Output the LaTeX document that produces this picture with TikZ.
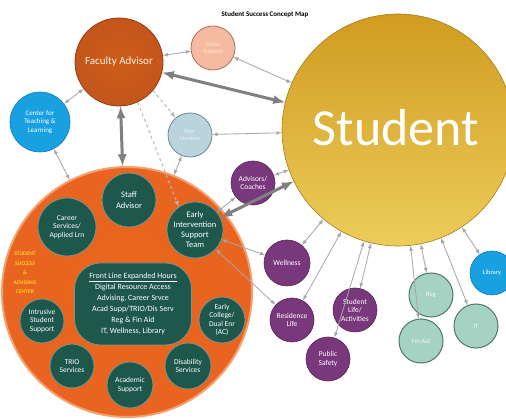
\documentclass[tikz,border=0pt]{standalone}
\usepackage{fontspec}
\setmainfont{Carlito}

\definecolor{facorange}{RGB}{196,86,28}
\definecolor{facdark}{RGB}{150,60,20}
\definecolor{ssacorange}{RGB}{232,100,32}
\definecolor{ssacedge}{RGB}{244,160,110}
\definecolor{deepteal}{RGB}{30,88,76}
\definecolor{tealedge}{RGB}{120,150,140}
\definecolor{plum}{RGB}{122,56,124}
\definecolor{seafoam}{RGB}{166,210,196}
\definecolor{seaedge}{RGB}{80,120,106}
\definecolor{skyblue}{RGB}{24,160,224}
\definecolor{peach}{RGB}{246,186,160}
\definecolor{peachedge}{RGB}{170,110,90}
\definecolor{mist}{RGB}{186,212,222}
\definecolor{mistedge}{RGB}{110,135,145}
\definecolor{goldtop}{RGB}{208,156,32}
\definecolor{goldbot}{RGB}{236,204,90}
\definecolor{linkgray}{RGB}{165,165,170}
\definecolor{boldgray}{RGB}{128,128,132}
\definecolor{labelyellow}{RGB}{250,210,40}

\begin{document}
\begin{tikzpicture}[>=latex, x=1pt, y=-1pt]
        % Styles
        \tikzstyle{bubble}=[circle, inner sep=0pt, align=center, text=white]
        \tikzstyle{inner}=[bubble, fill=deepteal, draw=tealedge, line width=0.8pt, font=\fontsize{7.5}{8.5}\selectfont]
        \tikzstyle{purple}=[bubble, fill=plum, draw=plum!70!black, line width=0.6pt, minimum size=44pt, font=\fontsize{7.5}{8.5}\selectfont]
        \tikzstyle{service}=[bubble, fill=seafoam, draw=seaedge, line width=1pt, minimum size=44pt, text=white!85!seafoam, font=\fontsize{6.5}{7.5}\selectfont]
        \tikzstyle{thinlink}=[<->, linkgray, line width=0.8pt]
        \tikzstyle{dashlink}=[->, linkgray!80, line width=1pt, dashed]
        \tikzstyle{boldlink}=[<->, boldgray, line width=3pt]

        \useasboundingbox (0,0) rectangle (506,419);
        \fill[white] (0,0) rectangle (506,419);

        % Title
        \node[font=\bfseries\fontsize{7}{8}\selectfont] (title) at (265,15) {Student Success Concept Map};

        % Nodes
        \node[bubble, minimum size=232pt, top color=goldtop, bottom color=goldbot, draw=goldtop!80!black, line width=0.6pt] (stu) at (398,130) {};
        \node[text=white, font=\fontsize{52}{52}\selectfont] (stutext) at (396,128) {Student};

        \node[bubble, minimum size=88pt, inner color=facorange!85!orange, outer color=facorange, draw=facdark, line width=0.8pt, font=\fontsize{11}{12}\selectfont, text=white!90!orange] (fac) at (119,62) {Faculty Advisor};
        \node[bubble, minimum size=44pt, fill=peach, draw=peachedge, line width=0.8pt, text=white!70!peach, font=\fontsize{6}{7}\selectfont] (other) at (213,48) {Other\\Support};
        \node[bubble, minimum size=44pt, fill=mist, draw=mistedge, line width=0.8pt, text=white!70!mist, font=\fontsize{6}{7}\selectfont] (peer) at (190,135) {Peer\\Mentors};
        \node[bubble, minimum size=60pt, fill=skyblue, draw=skyblue!80!black, line width=0.6pt, font=\fontsize{7}{8.5}\selectfont] (ctl) at (40,122) {Center for\\Teaching \&\\Learning};

        \node[bubble, minimum size=250pt, inner color=ssacorange!90!orange, outer color=ssacorange, draw=ssacedge, line width=2pt] (ssac) at (127,292) {};
        \node[align=center, text=labelyellow, font=\bfseries\fontsize{5.5}{9.5}\selectfont] (ssaclabel) at (25,273) {STUDENT\\SUCCESS\\\&\\ADVISING\\CENTER};

        \node[inner, minimum size=54pt, font=\fontsize{8.5}{10.5}\selectfont] (staff) at (129,200) {Staff\\Advisor};
        \node[inner, minimum size=58pt] (career) at (67,227) {Career\\Services/\\Applied Lrn};
        \node[inner, minimum size=56pt, font=\fontsize{8.5}{10}\selectfont] (ei) at (195,230) {Early\\Intervention\\Support\\Team};
        \node[rectangle, rounded corners=26pt, minimum width=117pt, minimum height=82pt, fill=deepteal, draw=tealedge, line width=0.8pt, align=center, text=white, inner sep=2pt, font=\fontsize{8}{11}\selectfont] (front) at (133,304) {\underline{Front Line Expanded Hours}\\Digital Resource Access\\Advising, Career Srvce\\Acad Supp/TRIO/Dis Serv\\Reg \& Fin Aid\\IT, Wellness, Library};
        \node[inner, minimum size=44pt] (intrusive) at (42,321) {Intrusive\\Student\\Support};
        \node[inner, minimum size=46pt] (college) at (222,320) {Early\\College/\\Dual Enr\\(AC)};
        \node[inner, minimum size=44pt] (trio) at (72,366) {TRIO\\Services};
        \node[inner, minimum size=46pt] (acad) at (130,385) {Academic\\Support};
        \node[inner, minimum size=46pt] (disab) at (188,366) {Disability\\Services};

        \node[purple] (coach) at (253,183) {Advisors/\\Coaches};
        \node[purple, minimum size=46pt] (well) at (287,263) {Wellness};
        \node[purple] (reslife) at (292,320) {Residence\\Life};
        \node[purple] (stulife) at (355,310) {Student\\Life/\\Activities};
        \node[purple] (safety) at (328,359) {Public\\Safety};

        \node[service] (reg) at (431,295) {Reg};
        \node[service] (finaid) at (421,341) {Fin Aid};
        \node[service] (it) at (476,326) {IT};
        \node[bubble, minimum size=44pt, fill=skyblue, draw=skyblue!80!black, line width=0.6pt, font=\fontsize{6.5}{7.5}\selectfont] (lib) at (492,273) {Library};

        % Arrows
        \draw[boldlink] (fac) -- (stu);
        \draw[boldlink] (fac) -- (ssac);
        \draw[boldlink] (ei) -- (stu);
        \draw[thinlink] (fac) -- (other);
        \draw[thinlink] (other) -- (stu);
        \draw[thinlink] (ctl) -- (fac);
        \draw[thinlink] (ctl) -- (ssac);
        \draw[thinlink] (peer) -- (stu);
        \draw[thinlink] (peer) -- (ssac);
        \draw[dashlink] (fac.-65) -- (ei.125);
        \draw[dashlink] (fac.-40) -- (peer);
        \draw[thinlink] (coach) -- (ei);
        \draw[thinlink] (coach) -- (stu);
        \draw[thinlink] (ei) -- (well);
        \draw[thinlink] (ei) -- (reslife);
        \draw[thinlink] (well) -- (stu);
        \draw[thinlink] (reslife) -- (stu);
        \draw[thinlink] (stulife) -- (stu);
        \draw[thinlink] (safety) -- (stu);
        \draw[thinlink] (reg) -- (stu);
        \draw[thinlink] (finaid) -- (stu);
        \draw[thinlink] (it) -- (stu);
        \draw[thinlink] (lib) -- (stu);
    \end{tikzpicture}
\end{document}
